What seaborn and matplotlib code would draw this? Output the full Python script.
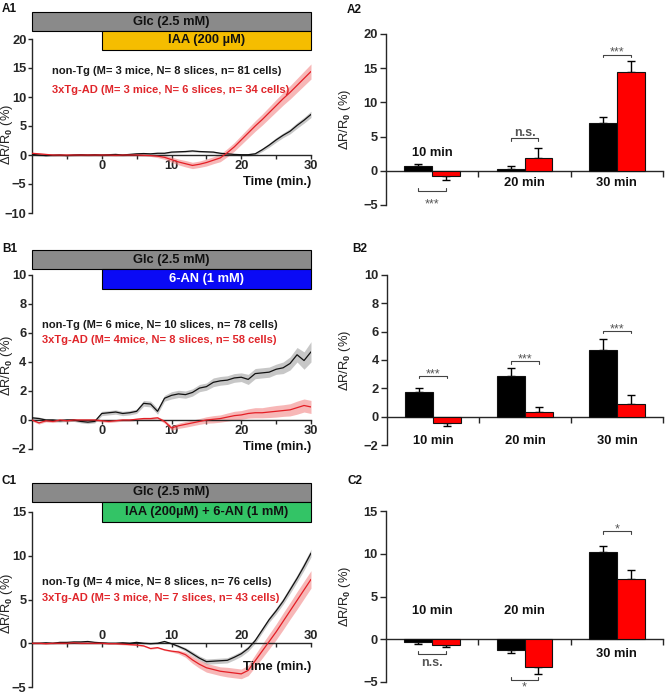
import matplotlib
matplotlib.use("Agg")
import numpy as np
import pandas as pd
import matplotlib.pyplot as plt
import matplotlib.transforms as mtransforms
from matplotlib.patches import Rectangle
import seaborn as sns

# ---------------------------------------------------------------- data
time_min = [-10, -9, -8, -7, -6, -5, -4, -3, -2, -1, 0, 1, 2, 3, 4, 5, 6, 7, 8, 9, 10,
            11, 12, 13, 14, 15, 16, 17, 18, 19, 20, 21, 22, 23, 24, 25, 26, 27, 28, 29, 30]

# A1 : IAA (200 uM)
a1_nontg = [0.1, 0.0, -0.1, -0.05, 0.0, -0.1, 0.0, 0.05, 0.0, 0.05, 0.0, 0.05, 0.1, 0.0, 0.1,
            0.2, 0.25, 0.2, 0.3, 0.3, 0.5, 0.55, 0.6, 0.7, 0.6, 0.55, 0.5, 0.3, 0.2, 0.1, 0.05,
            0.05, 0.2, 0.9, 1.7, 2.6, 3.4, 4.1, 5.1, 6.0, 7.0]
a1_nontg_sem = [0.15, 0.15, 0.15, 0.15, 0.15, 0.15, 0.15, 0.15, 0.15, 0.15, 0.15, 0.15, 0.15,
                0.15, 0.15, 0.15, 0.15, 0.15, 0.15, 0.15, 0.15, 0.15, 0.15, 0.15, 0.15, 0.15,
                0.15, 0.15, 0.15, 0.15, 0.2, 0.2, 0.25, 0.3, 0.35, 0.4, 0.4, 0.45, 0.5, 0.5, 0.55]
a1_tg = [0.3, 0.2, 0.1, 0.0, 0.0, 0.0, 0.0, 0.0, 0.0, 0.0, 0.0, 0.0, -0.05, 0.0, 0.0, 0.0,
         -0.05, -0.1, -0.2, -0.4, -0.8, -1.2, -1.5, -1.8, -1.6, -1.3, -0.9, -0.5, 0.4, 1.4,
         2.6, 3.8, 5.0, 6.1, 7.3, 8.5, 9.7, 10.8, 12.0, 13.2, 14.4]
a1_tg_sem = [0.15, 0.15, 0.15, 0.15, 0.15, 0.15, 0.15, 0.15, 0.15, 0.15, 0.15, 0.15, 0.15,
             0.15, 0.15, 0.15, 0.15, 0.15, 0.25, 0.35, 0.45, 0.5, 0.55, 0.55, 0.55, 0.6, 0.6,
             0.65, 0.7, 0.75, 0.8, 0.85, 0.9, 0.95, 1.0, 1.05, 1.1, 1.15, 1.2, 1.25, 1.3]

# B1 : 6-AN (1 mM)
b1_nontg = [0.15, 0.1, 0.0, 0.0, -0.05, 0.0, 0.0, -0.1, -0.15, -0.1, 0.45, 0.5, 0.55, 0.45,
            0.5, 0.6, 1.15, 1.1, 0.6, 1.5, 1.7, 1.8, 1.75, 1.9, 2.2, 2.3, 2.6, 2.7, 2.75, 2.9,
            2.95, 2.8, 3.2, 3.25, 3.3, 3.5, 3.6, 3.9, 4.5, 4.1, 4.7]
b1_nontg_sem = [0.1, 0.1, 0.1, 0.1, 0.1, 0.1, 0.1, 0.1, 0.1, 0.1, 0.15, 0.15, 0.15, 0.15,
                0.15, 0.15, 0.2, 0.2, 0.2, 0.2, 0.25, 0.25, 0.25, 0.25, 0.25, 0.25, 0.3, 0.3,
                0.3, 0.3, 0.3, 0.35, 0.35, 0.35, 0.35, 0.35, 0.4, 0.45, 0.5, 0.6, 0.7]
b1_tg = [0.0, -0.2, -0.05, -0.1, 0.0, -0.05, 0.0, 0.0, 0.0, 0.0, -0.05, -0.1, -0.05, 0.0,
         0.0, 0.05, 0.1, 0.1, 0.15, -0.1, -0.55, -0.4, -0.3, -0.2, -0.1, 0.0, 0.05, 0.1,
         0.2, 0.3, 0.35, 0.45, 0.5, 0.5, 0.55, 0.6, 0.65, 0.7, 0.85, 1.0, 0.9]
b1_tg_sem = [0.08, 0.08, 0.08, 0.08, 0.08, 0.08, 0.08, 0.08, 0.08, 0.08, 0.08, 0.08, 0.08,
             0.08, 0.08, 0.08, 0.08, 0.08, 0.08, 0.12, 0.15, 0.18, 0.2, 0.2, 0.2, 0.22,
             0.25, 0.25, 0.28, 0.3, 0.3, 0.32, 0.35, 0.35, 0.38, 0.4, 0.4, 0.42, 0.45, 0.45,
             0.45]

# C1 : IAA + 6-AN
c1_nontg = [0.0, 0.0, 0.05, 0.0, 0.1, 0.1, 0.15, 0.15, 0.2, 0.1, 0.05, 0.0, 0.0, 0.05, 0.0,
            0.1, 0.0, -0.05, 0.0, 0.2, -0.05, -0.35, -0.7, -1.2, -1.7, -2.1, -2.05, -2.0,
            -1.95, -1.6, -1.2, -0.6, 0.3, 1.5, 2.7, 3.7, 4.8, 6.1, 7.4, 8.8, 10.3]
c1_nontg_sem = [0.08, 0.08, 0.08, 0.08, 0.08, 0.08, 0.08, 0.08, 0.08, 0.08, 0.08, 0.08, 0.08,
                0.08, 0.08, 0.08, 0.08, 0.08, 0.08, 0.08, 0.08, 0.15, 0.2, 0.25, 0.25, 0.3,
                0.3, 0.3, 0.3, 0.3, 0.3, 0.3, 0.3, 0.3, 0.3, 0.35, 0.35, 0.4, 0.4, 0.45, 0.45]
c1_tg = [0.0, 0.0, -0.05, 0.0, 0.0, 0.0, 0.05, 0.0, 0.0, 0.0, 0.0, -0.05, -0.05, -0.1, -0.15,
         -0.2, -0.3, -0.6, -0.5, -0.75, -0.9, -1.0, -1.3, -1.9, -2.4, -2.8, -3.0, -3.2, -3.3,
         -3.4, -3.5, -3.1, -2.0, -0.9, 0.2, 1.3, 2.5, 3.7, 4.9, 6.1, 7.3]
c1_tg_sem = [0.08, 0.08, 0.08, 0.08, 0.08, 0.08, 0.08, 0.08, 0.08, 0.08, 0.08, 0.08, 0.08,
             0.08, 0.08, 0.08, 0.08, 0.08, 0.08, 0.08, 0.1, 0.2, 0.3, 0.4, 0.45, 0.5, 0.5,
             0.5, 0.55, 0.55, 0.55, 0.6, 0.7, 0.8, 0.85, 0.9, 0.95, 0.95, 1.0, 1.0, 1.0]

glc_span = [-10, 30]
drug_span = [0, 30]
glc_label = "Glc (2.5 mM)"
drug_labels = ["IAA (200 µM)", "6-AN (1 mM)", "IAA (200µM) + 6-AN (1 mM)"]

legend_a1 = ["non-Tg (M= 3 mice, N= 8 slices, n= 81 cells)",
             "3xTg-AD (M= 3 mice, N= 6 slices, n= 34 cells)"]
legend_b1 = ["non-Tg (M= 6 mice, N= 10 slices, n= 78 cells)",
             "3xTg-AD (M= 4mice, N= 8 slices, n= 58 cells)"]
legend_c1 = ["non-Tg (M= 4 mice, N= 8 slices, n= 76 cells)",
             "3xTg-AD (M= 3 mice, N= 7 slices, n= 43 cells)"]

bar_times = ["10 min", "20 min", "30 min"]
groups = ["non-Tg", "3xTg-AD"]

a2_nontg = [0.7, 0.2, 7.0]
a2_nontg_sem = [0.25, 0.5, 0.8]
a2_tg = [-0.7, 1.85, 14.45]
a2_tg_sem = [0.65, 1.45, 1.65]
a2_sig = ["***", "n.s.", "***"]
a2_sig_y = [-2.94, 4.75, 17.0]

b2_nontg = [1.75, 2.9, 4.7]
b2_nontg_sem = [0.3, 0.5, 0.75]
b2_tg = [-0.42, 0.3, 0.9]
b2_tg_sem = [0.26, 0.4, 0.6]
b2_sig = ["***", "***", "***"]
b2_sig_y = [2.9, 3.9, 6.07]

c2_nontg = [-0.3, -1.3, 10.2]
c2_nontg_sem = [0.2, 0.3, 0.65]
c2_tg = [-0.65, -3.3, 7.1]
c2_tg_sem = [0.3, 0.75, 1.05]
c2_sig = ["n.s.", "*", "*"]
c2_sig_y = [-1.68, -4.73, 12.65]

ylabel_text = "ΔR/R$_0$ (%)"
time_label = "Time (min.)"

# ---------------------------------------------------------------- style
sns.set_style("ticks")
plt.rcParams["font.family"] = ["Liberation Sans", "DejaVu Sans"]
plt.rcParams["font.weight"] = "bold"
plt.rcParams["mathtext.fontset"] = "custom"
plt.rcParams["mathtext.rm"] = "Liberation Sans"
plt.rcParams["mathtext.it"] = "Liberation Sans:italic"
plt.rcParams["mathtext.bf"] = "Liberation Sans:bold"
plt.rcParams["axes.linewidth"] = 1.0

BLACK_LINE = "#111111"
RED_LINE = "#e41e25"
BLACK_BAND = "#9a9a9a"
RED_BAND = "#f27c7c"
GRAY_BAR = "#8a8a8a"
FS = 9.3

FIG_W, FIG_H = 666, 693
fig = plt.figure(figsize=(FIG_W / 100, FIG_H / 100), dpi=100)


def rect(l, t, r, b):
    return [l / FIG_W, 1 - b / FIG_H, (r - l) / FIG_W, (b - t) / FIG_H]


def fx(px):
    return px / FIG_W


def fy(py):
    return 1 - py / FIG_H


def line_panel(box, ylim, ystep, nontg, nontg_sem, tg, tg_sem, drug_label, drug_color,
               drug_tc, rows, legend, legend_xy, tlabel_y, ylab_x, ylab_y, labels_above=False):
    ax = fig.add_axes(rect(*box))
    t = np.array(time_min, dtype=float)
    for vals, sem, bc, al in [(nontg, nontg_sem, BLACK_BAND, 0.55), (tg, tg_sem, RED_BAND, 0.55)]:
        v = np.array(vals)
        s = np.array(sem)
        ax.fill_between(t, v - s, v + s, color=bc, alpha=al, lw=0, zorder=1)
    sns.lineplot(x=time_min, y=nontg, color=BLACK_LINE, lw=0.9, ax=ax, zorder=3)
    sns.lineplot(x=time_min, y=tg, color=RED_LINE, lw=0.9, ax=ax, zorder=4)
    ax.set_xlim(glc_span[0], glc_span[1])
    ax.set_ylim(*ylim)
    ax.set_yticks(np.arange(ylim[0], ylim[1] + 0.001, ystep))
    ax.set_xticks([0, 10, 20, 30])
    ax.set_xticks([-5, 5, 15, 25], minor=True)
    ax.spines["top"].set_visible(False)
    ax.spines["right"].set_visible(False)
    ax.spines["bottom"].set_position(("data", 0))
    ax.tick_params(axis="y", direction="out", length=3, width=1, pad=1, labelsize=FS)
    ax.tick_params(axis="x", which="both", direction="out", length=3, width=1,
                   pad=(-12.5 if labels_above else 0.5), labelsize=FS)
    ax.set_xlabel("")
    ax.set_ylabel(ylabel_text, fontweight="normal", fontsize=FS, va="center", color="#222222")
    ax.yaxis.set_label_coords((ylab_x - box[0]) / (box[2] - box[0]), ylab_y)

    trans = mtransforms.blended_transform_factory(ax.transData, fig.transFigure)
    g_top, g_bot, d_bot = rows
    ax.add_patch(Rectangle((glc_span[0], fy(g_bot)), glc_span[1] - glc_span[0],
                           fy(g_top) - fy(g_bot), transform=trans, clip_on=False,
                           fc=GRAY_BAR, ec="black", lw=0.8, zorder=5))
    ax.text((glc_span[0] + glc_span[1]) / 2, (fy(g_top) + fy(g_bot)) / 2, glc_label,
            transform=trans, ha="center", va="center", fontsize=FS, color="#111111",
            fontweight="bold", zorder=6)
    ax.add_patch(Rectangle((drug_span[0], fy(d_bot)), drug_span[1] - drug_span[0],
                           fy(g_bot) - fy(d_bot), transform=trans, clip_on=False,
                           fc=drug_color, ec="black", lw=0.8, zorder=5))
    ax.text((drug_span[0] + drug_span[1]) / 2, (fy(g_bot) + fy(d_bot)) / 2, drug_label,
            transform=trans, ha="center", va="center", fontsize=FS, color=drug_tc,
            fontweight="bold", zorder=6)

    lx, ly0, ly1 = legend_xy
    fig.text(fx(lx), fy(ly0), legend[0], color="#1a1a1a", fontsize=8.0, va="center",
             ha="left", fontweight="bold")
    fig.text(fx(lx), fy(ly1), legend[1], color="#e0262b", fontsize=8.0, va="center",
             ha="left", fontweight="bold")
    fig.text(fx(box[2]), fy(tlabel_y), time_label, ha="right", va="center", fontsize=FS,
             fontweight="bold", color="#111111")
    return ax


def bar_panel(box, ylim, ystep, nontg, nontg_sem, tg, tg_sem, label_y, sig, sig_y,
              sig_gap, ylab_x):
    ax = fig.add_axes(rect(*box))
    df = pd.DataFrame({
        "time": bar_times + bar_times,
        "group": [groups[0]] * len(bar_times) + [groups[1]] * len(bar_times),
        "value": nontg + tg,
    })
    sns.barplot(data=df, x="time", y="value", hue="group", order=bar_times,
                hue_order=groups, palette=["#000000", "#ff0000"], width=0.6, gap=0,
                saturation=1, errorbar=None, edgecolor="#111111", linewidth=0.8,
                legend=False, ax=ax, zorder=3)
    bars = sorted(ax.patches, key=lambda p: p.get_x())
    sems = []
    for a, b in zip(nontg_sem, tg_sem):
        sems += [a, b]
    centers = []
    for p, s in zip(bars, sems):
        x = p.get_x() + p.get_width() / 2
        v = p.get_y() + p.get_height()
        centers.append(x)
        yerr = [[0], [s]] if v >= 0 else [[s], [0]]
        ax.errorbar([x], [v], yerr=yerr, fmt="none", ecolor="black", elinewidth=1.0,
                    capsize=3, capthick=1.0, zorder=2)
    ax.set_xlim(-0.5, len(bar_times) - 0.5)
    ax.set_ylim(*ylim)
    ax.set_yticks(np.arange(ylim[0], ylim[1] + 0.001, ystep))
    ax.set_xticks([0.5, 1.5, 2.5], labels=["", "", ""])
    ax.spines["top"].set_visible(False)
    ax.spines["right"].set_visible(False)
    ax.spines["bottom"].set_position(("data", 0))
    ax.tick_params(axis="y", direction="out", length=4, width=1, pad=2, labelsize=FS)
    ax.tick_params(axis="x", direction="out", length=4, width=1)
    ax.set_xlabel("")
    ax.set_ylabel(ylabel_text, fontweight="normal", fontsize=FS, va="center", color="#222222")
    ax.yaxis.set_label_coords((ylab_x - box[0]) / (box[2] - box[0]), 0.5)

    for i, lab in enumerate(bar_times):
        ax.text(i, label_y[i], lab, ha="center", va="center", fontsize=FS,
                fontweight="bold", color="#111111")

    tip = 0.016 * (ylim[1] - ylim[0])
    for i, (txt, yb, gap) in enumerate(zip(sig, sig_y, sig_gap)):
        x0, x1 = centers[2 * i], centers[2 * i + 1]
        top_vals = max(nontg[i] + nontg_sem[i], tg[i] + tg_sem[i])
        above = yb > top_vals - 1e-9 and yb > 0
        sgn = -1 if above else 1
        ax.plot([x0, x0, x1, x1], [yb + sgn * tip, yb, yb, yb + sgn * tip],
                color="#444444", lw=0.8, zorder=4, clip_on=False)
        gc = 7.2 if "*" in txt else 3.3
        off_px = (gap - gc) if above else (-gap - gc)
        ax.annotate(txt, xy=((x0 + x1) / 2, yb), xytext=(0, off_px * 0.72),
                    textcoords="offset points", ha="center", va="baseline",
                    fontsize=9, color="#555555",
                    fontweight=("bold" if txt == "n.s." else "normal"),
                    annotation_clip=False)
    return ax


# ---------------------------------------------------------------- panels
line_panel((32, 39, 311, 213), (-10, 20), 5, a1_nontg, a1_nontg_sem, a1_tg, a1_tg_sem,
           drug_labels[0], "#f5bd00", "#111111", (12, 31, 50), legend_a1, (52, 71, 90),
           182, 7, 0.45)
line_panel((32, 275, 311, 449), (-2, 10), 2, b1_nontg, b1_nontg_sem, b1_tg, b1_tg_sem,
           drug_labels[1], "#0a0af5", "#ffffff", (250, 269, 289), legend_b1, (42, 325, 340),
           447, 7, 0.48)
line_panel((32, 512, 311, 687), (-5, 15), 5, c1_nontg, c1_nontg_sem, c1_tg, c1_tg_sem,
           drug_labels[2], "#33c466", "#111111", (483, 502, 522), legend_c1, (42, 582, 598),
           667, 7, 0.48, labels_above=True)

bar_panel((386, 34, 663, 205), (-5, 20), 5, a2_nontg, a2_nontg_sem, a2_tg, a2_tg_sem,
          [2.65, -1.76, -1.76], a2_sig, a2_sig_y, [9.0, 5.8, 5.8], 345)
bar_panel((387, 275, 663, 445), (-2, 10), 2, b2_nontg, b2_nontg_sem, b2_tg, b2_tg_sem,
          [-1.72, -1.72, -1.72], b2_sig, b2_sig_y, [5.8, 5.8, 5.8], 345)
bar_panel((386, 511, 663, 682), (-5, 15), 5, c2_nontg, c2_nontg_sem, c2_tg, c2_tg_sem,
          [3.32, 3.32, -1.68], c2_sig, c2_sig_y, [9.0, 4.0, 5.8], 345)

for lab, x, y in [("A1", 2, 3), ("A2", 347, 4), ("B1", 2, 243), ("B2", 352, 243),
                  ("C1", 2, 475), ("C2", 348, 475)]:
    fig.text(fx(x), fy(y), lab, ha="left", va="top", fontsize=8.5, fontweight="bold",
             color="#111111")

fig.savefig("out.png", dpi=100)
